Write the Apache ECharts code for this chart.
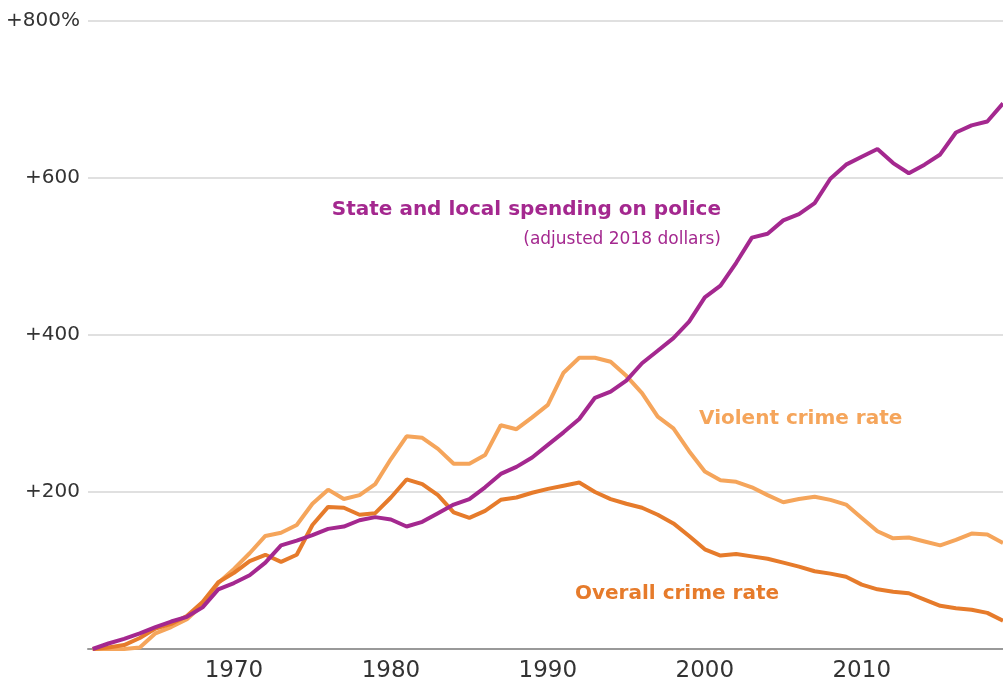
<!DOCTYPE html>
<html>
<head>
<meta charset="utf-8">
<script src="https://cdn.jsdelivr.net/npm/echarts@6/dist/echarts.min.js"></script>
<style>
	html, body { margin: 0; padding: 0; background: #fff; }
	#chart { width: 1003px; height: 684px; }
</style>
</head>
<body>
<div id="chart"></div>
<script>
	var years = [];
	for (var y = 1961; y <= 2019; y++) years.push(y);

	// percent change since 1961
	var spending = [0, 7, 13, 20, 28, 35, 41, 53, 76, 84,
		94, 110, 132, 138, 145, 153, 156, 164, 168, 165,
		156, 162, 173, 184, 191, 206, 223, 232, 244, 260,
		276, 293, 320, 328, 342, 364, 380, 396, 417, 448,
		463, 492, 524, 529, 546, 554, 568, 599, 617, 627,
		637, 619, 606, 617, 630, 658, 667, 672, 695];
	var violent = [0, -1, 0, 2, 20, 28, 38, 56, 84, 102,
		122, 144, 148, 158, 185, 203, 191, 196, 210, 242,
		271, 269, 255, 236, 236, 247, 285, 280, 295, 311,
		352, 371, 371, 366, 348, 326, 296, 281, 252, 226,
		215, 213, 206, 196, 187, 191, 194, 190, 184, 167,
		150, 141, 142, 137, 132, 139, 147, 146, 135];
	var overall = [0, 2, 5, 14, 26, 32, 42, 60, 85, 97,
		112, 120, 111, 120, 158, 181, 180, 171, 173, 193,
		216, 210, 196, 174, 167, 176, 190, 193, 199, 204,
		208, 212, 200, 191, 185, 180, 171, 160, 144, 127,
		119, 121, 118, 115, 110, 105, 99, 96, 92, 82,
		76, 73, 71, 63, 55, 52, 50, 46, 36];
	var xTicks = [1970, 1980, 1990, 2000, 2010];

	function pairs(arr) {
		var out = [];
		for (var i = 0; i < years.length; i++) out.push([years[i], arr[i]]);
		return out;
	}

	var font = '"DejaVu Sans", sans-serif';
	var chart = echarts.init(document.getElementById('chart'));
	var option = {
		backgroundColor: '#fff',
		animation: false,
		grid: { left: 88, right: 0, top: 21, bottom: 35 },
		xAxis: {
			type: 'value',
			min: 1960.7,
			max: 2019,
			axisLine: { show: true, lineStyle: { color: '#999', width: 2 } },
			axisTick: { show: false },
			splitLine: { show: false },
			axisLabel: {
				customValues: xTicks,
				color: '#333',
				fontSize: 23,
				fontFamily: font,
				margin: 11,
				formatter: function (v) { return String(v); }
			}
		},
		yAxis: {
			type: 'value',
			min: 0,
			max: 800,
			interval: 200,
			axisLine: { show: false },
			axisTick: { show: false },
			splitLine: { lineStyle: { color: '#d6d6d6', width: 1.5 } },
			axisLabel: {
				color: '#333',
				fontSize: 20,
				fontFamily: font,
				margin: 8,
				formatter: function (v) {
					if (v === 0) return '';
					if (v === 800) return '+800%';
					return '+' + v;
				}
			}
		},
		series: [{
			name: 'Violent crime rate',
			type: 'line',
			data: pairs(violent),
			showSymbol: false,
			lineStyle: { color: '#f5a55b', width: 4 }
		}, {
			name: 'Overall crime rate',
			type: 'line',
			data: pairs(overall),
			showSymbol: false,
			lineStyle: { color: '#e67b2b', width: 4 }
		}, {
			name: 'State and local spending on police',
			type: 'line',
			data: pairs(spending),
			showSymbol: false,
			lineStyle: { color: '#a4288f', width: 4 }
		}],
		graphic: [{
			type: 'text', right: 1003 - 721, top: 200,
			style: { text: 'State and local spending on police', fill: '#a4288f', font: 'bold 20px ' + font, textAlign: 'right' }
		}, {
			type: 'text', right: 1003 - 721, top: 231,
			style: { text: '(adjusted 2018 dollars)', fill: '#a4288f', font: '17px ' + font, textAlign: 'right' }
		}, {
			type: 'text', left: 699, top: 409,
			style: { text: 'Violent crime rate', fill: '#f5a55b', font: 'bold 20px ' + font }
		}, {
			type: 'text', left: 575, top: 584,
			style: { text: 'Overall crime rate', fill: '#e67b2b', font: 'bold 20px ' + font }
		}]
	};
	chart.setOption(option);
</script>
</body>
</html>
